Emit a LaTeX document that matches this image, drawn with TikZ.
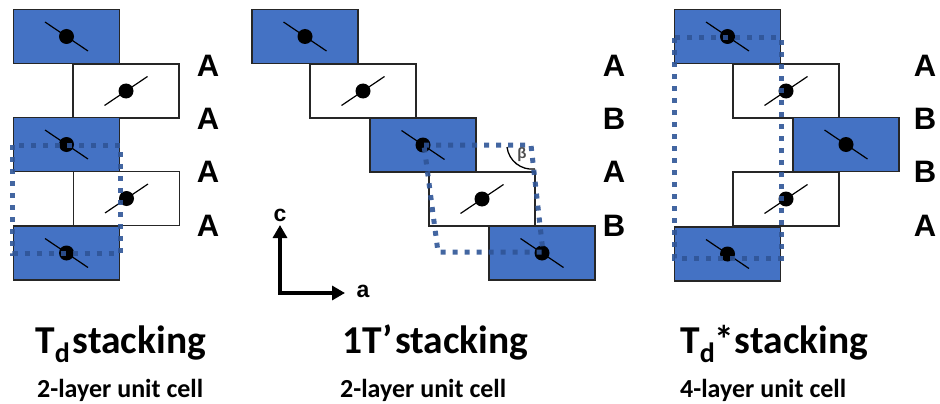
\documentclass[tikz,border=0pt]{standalone}
\usepackage{xcolor}
\usepackage{fontspec}
\setmainfont{Carlito}
\newfontfamily\arialfont{Liberation Sans}
\usetikzlibrary{arrows.meta}
\newcommand{\dsub}{\raisebox{-9pt}{\fontsize{28}{28}\selectfont d}}

\begin{document}
\begin{tikzpicture}[x=1pt,y=-1pt,
  layer/.style={rectangle,draw=black!85,line width=1.4pt,minimum width=106,minimum height=54,inner sep=0},
  atom/.style={circle,fill=black,minimum size=15,inner sep=0},
  stackname/.style={font=\arialfont\bfseries\fontsize{31}{31}\selectfont,inner sep=0},
  axisname/.style={font=\arialfont\bfseries\fontsize{23}{23}\selectfont,inner sep=0},
  cell/.style={draw=celldash,opacity=0.9,line width=5pt,dash pattern=on 5pt off 7pt},
  axis/.style={line width=3.2pt,-{Triangle[length=13pt,width=14pt]}},
  title/.style={font=\bfseries\fontsize{39.5}{39.5}\selectfont,anchor=base west,inner sep=0},
  subtitle/.style={font=\bfseries\fontsize{26}{26}\selectfont,anchor=base west,inner sep=0}]
\definecolor{layerblue}{HTML}{4472C4}
\definecolor{celldash}{HTML}{2F5597}
\useasboundingbox (0,0) rectangle (940,404);
% layers
  \foreach \nm/\xpos/\ypos/\crlr/\sgn in {
    tda/66.5/36.5/layerblue/1,tdb/126/91/white/-1,tdc/66.5/144.5/layerblue/1,tdd/126.5/198.5/white/-1,tde/66.5/253/layerblue/1,
    oa/305/36.5/layerblue/1,ob/363/91/white/-1,oc/423/145/layerblue/1,od/482/199/white/-1,oe/542/253/layerblue/1,
    sa/727.5/36.5/layerblue/1,sb/786/91/white/-1,sc/846/144.5/layerblue/1,sd/786/199/white/-1,se/727.5/254/layerblue/1}
  {  \node [layer,fill=\crlr] (\nm) at (\xpos,\ypos) {};
     \draw [line width=1.2pt] ([shift={(-21.5,-14.5*\sgn)}]\nm.center) -- ([shift={(21.5,14.5*\sgn)}]\nm.center);
     \node [atom] (atom-\nm) at (\nm) {};}
% stacking letters
  \foreach \nm/\xpos/\ypos/\ltr in {
    la/208/66/A,lb/208/119/A,lc/208/172/A,ld/208/226/A,
    le/614/66/A,lf/614/119/B,lg/614/172/A,lh/614/226/B,
    li/925/66/A,lj/925/119/B,lk/925/172/B,ll/925/226/A}
  {  \node [stackname] (\nm) at (\xpos,\ypos) {\ltr};}
% unit cells
\draw [cell] (12.5,145) rectangle (120,253);
\coordinate (ca) at (424,145);
\coordinate (cb) at (531,145);
\coordinate (cc) at (543,252);
\coordinate (cd) at (438,252);
\draw [cell] (ca) -- (cb) -- (cc) -- (cd) -- cycle;
\draw [cell] (674,38) rectangle (781,258);
% angle
\coordinate (ba) at (507,147);
\coordinate (bb) at (535,169);
\draw [line width=1.3pt] (ba) to[bend right=45] (bb);
\node [font=\arialfont\bfseries\fontsize{15}{15}\selectfont,text=black!70,inner sep=0] (beta) at (522,155) {β};
% axes
\coordinate (org) at (280,293);
\node [axisname] (axc) at (280,215) {c};
\node [axisname] (axa) at (363,291) {a};
\draw [axis] (org) -- (280,225);
\draw [axis] ([xshift=-1.6pt]org) -- (345,293);
% captions
\node [title] (tdname) at (35,353) {T\dsub\hspace{3pt}stacking};
\node [title] (oname) at (342,353) {1T’\hspace{2.5pt}stacking};
\node [title] (sname) at (680,353) {T\dsub*\hspace{0.5pt}stacking};
\node [subtitle] (tdcell) at (37,397) {2-layer unit cell};
\node [subtitle] (ocell) at (340,397) {2-layer unit cell};
\node [subtitle] (scell) at (680,397) {4-layer unit cell};
\end{tikzpicture}
\end{document}
